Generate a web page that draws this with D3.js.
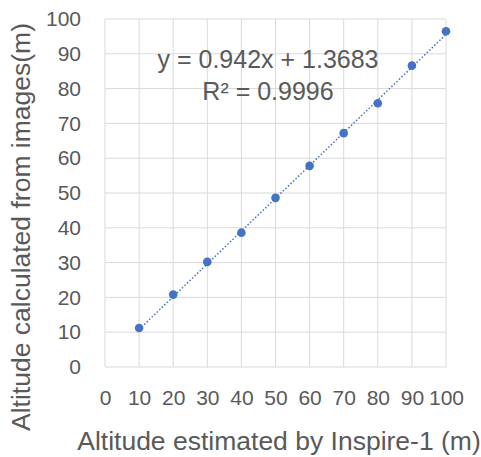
<!DOCTYPE html>
<html>
<head>
<style>
    body { margin: 0; background: #fff; }
    text { font-family: "Liberation Sans", sans-serif; fill: #595959; }
</style>
</head>
<body>
<svg id="chart" width="481" height="457"></svg>
<script src="https://cdnjs.cloudflare.com/ajax/libs/d3/7.8.5/d3.min.js"></script>
<script>
    // data
    let inspireAlt = [10, 20, 30, 40, 50, 60, 70, 80, 90, 100];
    let imageAlt = [11.2, 20.8, 30.2, 38.6, 48.6, 57.8, 67.2, 75.8, 86.6, 96.5];
    let xTicks = [0, 10, 20, 30, 40, 50, 60, 70, 80, 90, 100];
    let yTicks = [0, 10, 20, 30, 40, 50, 60, 70, 80, 90, 100];
    let slope = 0.942, intercept = 1.3683, r2 = 0.9996;

    let svg = d3.select("#chart");
    let x = d3.scaleLinear().domain([0, 100]).range([105, 446]);
    let y = d3.scaleLinear().domain([0, 100]).range([367, 19]);

    // grid
    svg.append("g").selectAll("line").data(xTicks).enter().append("line")
        .attr("x1", d => x(d)).attr("x2", d => x(d))
        .attr("y1", y(0)).attr("y2", y(100))
        .attr("stroke", "#d9d9d9").attr("stroke-width", 1);
    svg.append("g").selectAll("line").data(yTicks).enter().append("line")
        .attr("x1", x(0)).attr("x2", x(100))
        .attr("y1", d => y(d)).attr("y2", d => y(d))
        .attr("stroke", "#d9d9d9").attr("stroke-width", 1);

    // axes (labels only)
    let xAxis = d3.axisBottom(x).tickValues(xTicks).tickSize(0).tickPadding(0);
    let gx = svg.append("g").attr("transform", "translate(0, 390)").call(xAxis);
    let yAxis = d3.axisLeft(y).tickValues(yTicks).tickSize(0).tickPadding(0);
    let gy = svg.append("g").attr("transform", "translate(81, 0)").call(yAxis);
    for (let g of [gx, gy]) {
        g.select(".domain").remove();
        g.selectAll("text").style("font-size", "21px").attr("fill", "#595959")
            .style("font-family", "Liberation Sans, sans-serif");
    }

    // trendline
    let fit = d3.extent(inspireAlt).map(v => [v, slope * v + intercept]);
    svg.append("path")
        .attr("d", d3.line().x(d => x(d[0])).y(d => y(d[1]))(fit))
        .attr("fill", "none").attr("stroke", "#4472C4")
        .attr("stroke-width", 1.5).attr("stroke-dasharray", "1.5,2");

    // points
    svg.append("g").selectAll("circle").data(inspireAlt).enter().append("circle")
        .attr("cx", d => x(d)).attr("cy", (d, i) => y(imageAlt[i]))
        .attr("r", 4.3).attr("fill", "#4472C4");

    // equation
    svg.append("text").attr("x", 268).attr("y", 68).attr("text-anchor", "middle")
        .style("font-size", "25px").text("y = " + slope + "x + " + intercept);
    svg.append("text").attr("x", 268).attr("y", 100).attr("text-anchor", "middle")
        .style("font-size", "25px").text("R² = " + r2);

    // axis titles
    svg.append("text").attr("x", 279).attr("y", 450).attr("text-anchor", "middle")
        .style("font-size", "26.5px").text("Altitude estimated by Inspire-1 (m)");
    svg.append("text").attr("transform", "translate(30, 227) rotate(-90)")
        .attr("text-anchor", "middle")
        .style("font-size", "26.5px").text("Altitude calculated from images(m)");
</script>
</body>
</html>
